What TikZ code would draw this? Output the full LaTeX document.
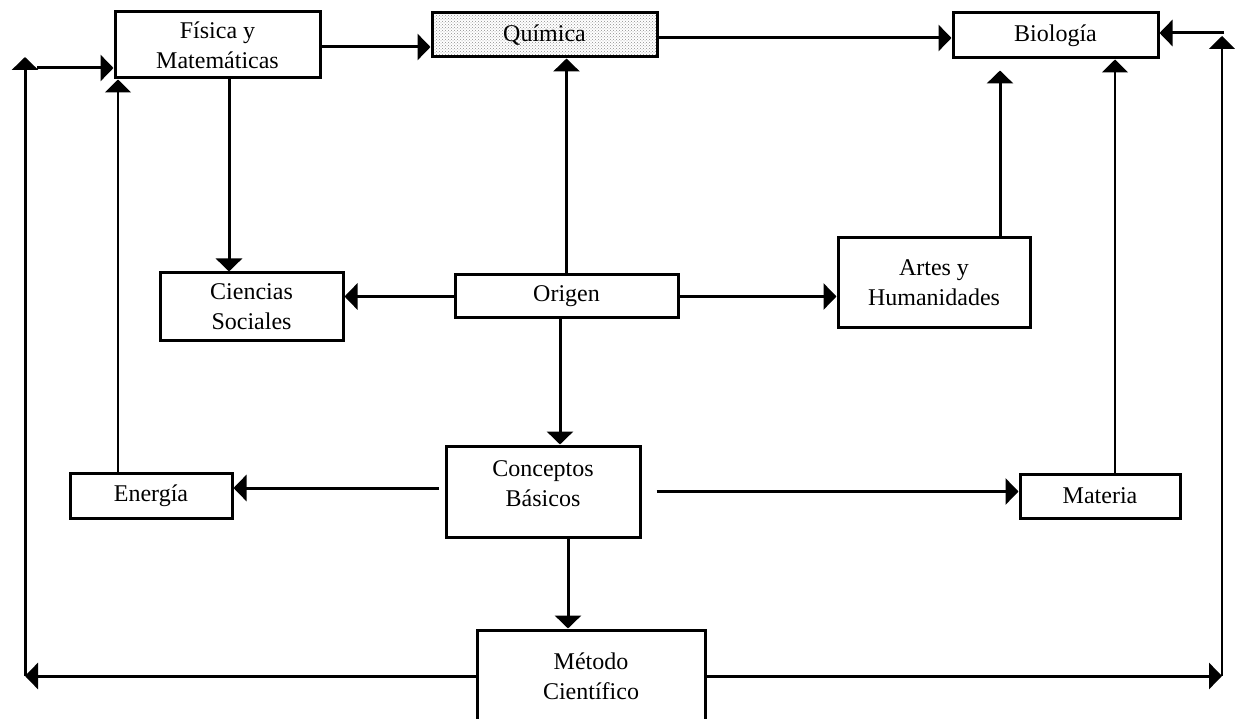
\documentclass[tikz,border=0pt]{standalone}
\usepackage{fontspec}
\setmainfont{Liberation Serif}
\usetikzlibrary{arrows.meta,patterns}

\tikzset{
  box/.style={draw, line width=3pt, rectangle, align=center, inner sep=0pt,
              font=\fontsize{24}{30}\selectfont},
  conn/.style={line width=3pt},
  thin conn/.style={line width=2.2pt},
  arr/.style={-{Triangle[length=13pt,width=26pt]}},
  boxtext/.style={align=center, font=\fontsize{24}{30}\selectfont}
}

\begin{document}
\begin{tikzpicture}[x=1pt,y=-1pt]
\useasboundingbox (0,0) rectangle (1235,719);

% boxes
\node[box, minimum width=205, minimum height=66] (fis) at (217.5,45) {Física y\\Matemáticas};
\node[box, minimum width=225, minimum height=44, pattern=crosshatch dots, pattern color=gray!90] (quim) at (544.5,35) {};
\node[boxtext] (quimt) at (quim.center) {Química};
\node[box, minimum width=205, minimum height=45] (bio) at (1055.5,35.5) {Biología};
\node[box, minimum width=183, minimum height=68] (cs) at (251.5,307) {Ciencias\\Sociales};
\node[box, minimum width=223, minimum height=43] (orig) at (566.5,296.5) {Origen};
\node[box, minimum width=192, minimum height=90] (artes) at (934,283) {Artes y\\Humanidades};
\node[box, minimum width=162, minimum height=45] (energ) at (151,495.5) {Energía};
\node[box, minimum width=194, minimum height=91] (conc) at (543,491.5) {};
\node[boxtext] (conct) at ([yshift=8pt]conc.center) {Conceptos\\Básicos};
\node[box, minimum width=160, minimum height=44] (mat) at (1100,496) {Materia};
\node[box, minimum width=228, minimum height=92] (met) at (591,676) {Método\\Científico};

% anchor points along the connectors
\coordinate (f1) at ([xshift=11.5pt]fis.south);
\coordinate (o1) at ([xshift=-6.5pt]orig.south);
\coordinate (a1) at ([xshift=66pt]artes.north);
\coordinate (e1) at ([xshift=-33pt]energ.north);
\coordinate (m1) at ([xshift=15pt]mat.north);
\coordinate (c1) at ([xshift=25pt]conc.south);
\coordinate (cw) at ([xshift=-6pt,yshift=3.5pt]conc.west);
\coordinate (ce) at ([xshift=15pt]conc.east);
\coordinate (bl) at (25,676);
\coordinate (tl) at (25,57);
\coordinate (tl2) at (37,68);
\coordinate (br) at (1222,676);
\coordinate (tr) at (1222,36);
\coordinate (tr2) at (1224,33);

% connectors
\draw[conn,arr] ([yshift=-2pt]fis.east) -- ([yshift=-12pt]quim.west);
\draw[conn,arr] ([yshift=-3pt]quim.east) -- ([yshift=-2.5pt]bio.west);
\draw[conn,arr] (f1) -- (f1 |- cs.north);
\draw[conn,arr] (orig.west) -- (orig.west -| cs.east);
\draw[conn,arr] (orig.north) -- (orig.north |- quim.south);
\draw[conn,arr] (orig.east) -- (orig.east -| artes.west);
\draw[conn,arr] (a1) -- ++(0,-166);
\draw[conn,arr] (o1) -- (o1 |- conc.north);
\draw[conn,arr] (cw) -- (cw -| energ.east);
\draw[conn,arr] (ce) -- (ce -| mat.west);
\draw[thin conn,arr] (e1) -- (e1 |- fis.south);
\draw[thin conn,arr] (m1) -- (m1 |- bio.south);
\draw[conn,arr] (c1) -- (c1 |- met.north);

% loops from the method box back to the top row
\draw[conn,arr] (met.west) -- (bl);
\draw[conn,arr] (bl) -- (tl);
\draw[conn,arr] (tl2) -- (tl2 -| fis.west);
\draw[conn,arr] (met.east) -- (br);
\draw[thin conn,arr] (br) -- (tr);
\draw[conn,arr] (tr2) -- (tr2 -| bio.east);
\end{tikzpicture}
\end{document}
